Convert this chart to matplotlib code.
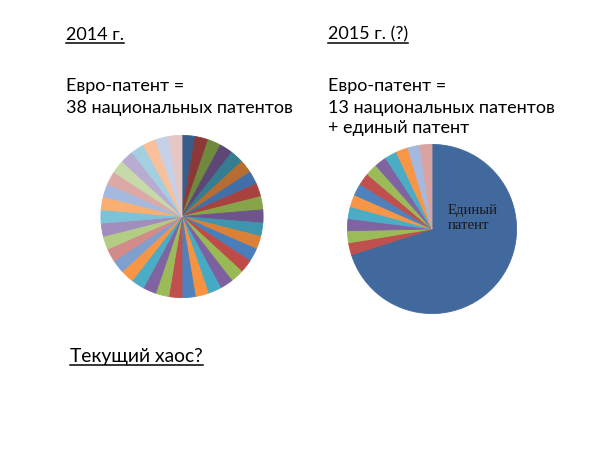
import matplotlib
matplotlib.use("Agg")
import matplotlib.pyplot as plt
from matplotlib.lines import Line2D

W, H = 600, 451
DPI = 100

# ---- data ----
national_2014 = [1] * 38
colors_2014 = [
    "#385D8A", "#8C3836", "#71893F", "#5C4776", "#357D91", "#B66D31",
    "#426FA8", "#A8423F", "#86A44A", "#6E548D", "#3D96AE", "#DA8137",
    "#4A7EBB", "#BE4B48", "#98B954", "#7D60A0", "#46AAC5", "#F69240",
    "#4F81BD", "#C0504D", "#9BBB59", "#8064A2", "#4BACC6", "#F79646",
    "#7F9FCF", "#D28B89", "#B3CD84", "#A28EBD", "#7DC3D8", "#F9AE72",
    "#A5B8DE", "#DDA9A7", "#C6D9A8", "#B9ACD0", "#A2D0E0", "#FAC09A",
    "#C6D1E8", "#E4C6C5",
]
unified_share = [70]
national_2015 = [2.3] * 13
colors_2015 = [
    "#41699E",
    "#C0504D", "#9BBB59", "#8064A2", "#4BACC6", "#F79646",
    "#4F81BD", "#C0504D", "#9BBB59", "#8064A2", "#4BACC6", "#F79646",
    "#A5B8DE", "#D9A3A2",
]
title_2014 = "2014 г."
title_2015 = "2015 г. (?)"
lines_2014 = ["Евро-патент =", "38 национальных патентов"]
lines_2015 = ["Евро-патент =", "13 национальных патентов", "+ единый патент"]
unified_label = "Единый\nпатент"
bottom_text = "Текущий хаос?"

FONT = ["Lato", "DejaVu Sans"]
FS = 12.95

fig = plt.figure(figsize=(W / DPI, H / DPI), dpi=DPI)
fig.patch.set_facecolor("white")


def px_ax(cx, cy, r):
    return fig.add_axes([(cx - r) / W, 1 - (cy + r) / H, 2 * r / W, 2 * r / H])


def ftext(x, y, s, size=FS, underline=False, **kw):
    t = fig.text(x / W, 1 - y / H, s, fontsize=size, family=FONT,
                 va="baseline", ha="left", color="black", **kw)
    if underline:
        t._underline = True
    return t


def style_wedges(wedges):
    for w in wedges:
        w.set_edgecolor(w.get_facecolor())
        w.set_linewidth(0.6)


# ---- pie 2014 ----
ax1 = px_ax(182, 216.5, 81.5)
w1, _ = ax1.pie(national_2014, colors=colors_2014, startangle=90,
                counterclock=False, radius=1)
style_wedges(w1)
ax1.set_xlim(-1.005, 1.005)
ax1.set_ylim(-1.005, 1.005)
ax1.set_aspect("equal")
ax1.axis("off")

# ---- pie 2015 ----
ax2 = px_ax(432, 229, 85)
w2, _ = ax2.pie(unified_share + national_2015, colors=colors_2015,
                startangle=90, counterclock=False, radius=1)
style_wedges(w2)
ax2.set_xlim(-1.005, 1.005)
ax2.set_ylim(-1.005, 1.005)
ax2.set_aspect("equal")
ax2.axis("off")
fig.text(448 / W, 1 - 229 / H, unified_label, fontsize=10.6,
         family=["Liberation Serif", "DejaVu Serif"], va="baseline", ha="left",
         color="#1a1a1a", linespacing=1.22)

# ---- texts ----
ftext(66, 39.5, title_2014, underline=True)
ftext(66, 91.5, lines_2014[0])
ftext(66, 112.8, lines_2014[1])
ftext(328, 39.5, title_2015, underline=True)
ftext(328, 91.5, lines_2015[0])
ftext(328, 112.8, lines_2015[1])
ftext(328, 133.5, lines_2015[2])
ftext(70, 362, bottom_text, size=13.9, underline=True)

fig.canvas.draw()
r = fig.canvas.get_renderer()
for t in list(fig.texts):
    if getattr(t, "_underline", False):
        bb = t.get_window_extent(r)
        x0, y0 = t.get_position()
        ybase = y0 * H - 3.0
        fig.add_artist(Line2D([bb.x0 / W, bb.x1 / W], [ybase / H, ybase / H],
                              transform=fig.transFigure, color="black",
                              linewidth=1.1))

fig.savefig("out.png", dpi=DPI, facecolor="white")
